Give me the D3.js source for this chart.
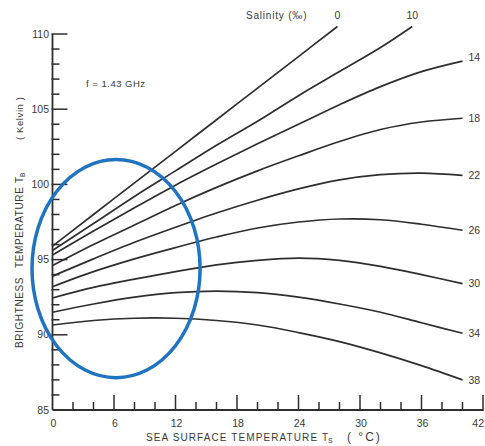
<!DOCTYPE html>
<html><head><meta charset="utf-8">
<script src="https://cdn.jsdelivr.net/npm/d3@7/dist/d3.min.js"></script>
<style>body{margin:0;background:#fff} svg{display:block} text{font-family:"Liberation Sans",Arial,sans-serif;fill:#3a3a3a}</style>
</head><body><svg id="c" width="485" height="446"></svg>
<script>
// ---- data ----
const salinities = ["0","10","14","18","22","26","30","34","38"];
const tempsS0  = [0,4,8,12,16,20,24,27.8];
const tempsS10 = [0,4,8,12,16,20,24,28,32,35.1];
const temps    = [0,4,8,12,16,20,24,28,32,36,40];
const tbS0  = [95.9,98.0,100.1,102.2,104.3,106.4,108.5,110.5];
const tbS10 = [95.6,97.4,99.2,100.9,102.6,104.2,105.9,107.5,109.1,110.5];
const tbS14 = [95.3,96.9,98.45,99.95,101.35,102.7,104.0,105.3,106.5,107.5,108.2];
const tbS18 = [94.6,96.0,97.3,98.6,99.8,100.9,101.9,102.85,103.65,104.15,104.4];
const tbS22 = [93.9,95.05,96.15,97.15,98.1,98.95,99.7,100.3,100.65,100.75,100.6];
const tbS26 = [93.2,94.2,95.05,95.8,96.5,97.1,97.5,97.7,97.65,97.35,96.95];
const tbS30 = [92.45,93.15,93.7,94.2,94.65,94.95,95.1,94.95,94.55,94.0,93.4];
const tbS34 = [91.5,92.05,92.5,92.8,92.9,92.8,92.5,92.05,91.5,90.8,90.1];
const tbS38 = [90.65,90.95,91.1,91.1,90.95,90.65,90.15,89.55,88.8,87.95,87.0];
const xTickLabels = [0,6,12,18,24,30,36,42];
const yTickLabels = [85,90,95,100,105,110];
const xMinorTicks = d3.range(0,43,2);
const yMinorTicks = d3.range(85,111,1);
// annotation ellipse (data units): centre and radii
const ellipseCentre = [6.2, 94.4];
const ellipseRadii = [8.2, 7.25];

const series = [
  {s:salinities[0], t:tempsS0,  v:tbS0},
  {s:salinities[1], t:tempsS10, v:tbS10},
  {s:salinities[2], t:temps, v:tbS14},
  {s:salinities[3], t:temps, v:tbS18},
  {s:salinities[4], t:temps, v:tbS22},
  {s:salinities[5], t:temps, v:tbS26},
  {s:salinities[6], t:temps, v:tbS30},
  {s:salinities[7], t:temps, v:tbS34},
  {s:salinities[8], t:temps, v:tbS38}
];

const svg = d3.select("#c");
const x = d3.scaleLinear().domain([0,42]).range([52.5,483]);
const y = d3.scaleLinear().domain([85,110]).range([410,34]);
const ink = "#2e2e2e";

// axes
svg.append("line").attr("x1",x(0)).attr("x2",x(0)).attr("y1",y(85)).attr("y2",y(110))
  .attr("stroke",ink).attr("stroke-width",1.8);
svg.append("line").attr("x1",x(0)).attr("x2",x(42)).attr("y1",y(85)).attr("y2",y(85))
  .attr("stroke",ink).attr("stroke-width",1.8);
// y ticks
svg.append("g").selectAll("line").data(yMinorTicks.filter(d=>d>85)).join("line")
  .attr("x1",x(0)-1).attr("x2",d=>x(0)+(d%5===0?15:7))
  .attr("y1",d=>y(d)).attr("y2",d=>y(d)).attr("stroke",ink).attr("stroke-width",1.5);
// x ticks
svg.append("g").selectAll("line").data(xMinorTicks.filter(d=>d>0)).join("line")
  .attr("x1",d=>x(d)).attr("x2",d=>x(d))
  .attr("y1",y(85)+1).attr("y2",d=>y(85)-(d%6===0?15:8)).attr("stroke",ink).attr("stroke-width",1.5);
// tick labels
svg.append("g").selectAll("text").data(yTickLabels).join("text")
  .attr("x",49).attr("y",d=>y(d)).attr("dy","0.35em").attr("text-anchor","end")
  .attr("font-size",10.5).text(d=>d);
svg.append("g").selectAll("text").data(xTickLabels).join("text")
  .attr("x",d=>d===42?484:x(d)+1).attr("y",427).attr("text-anchor",d=>d===42?"end":"middle")
  .attr("font-size",10.5).text(d=>d);

// axis titles
const xt = svg.append("text").attr("x",146).attr("y",441).attr("font-size",10).attr("letter-spacing",1.1);
xt.append("tspan").text("SEA  SURFACE  TEMPERATURE");
const xt2 = svg.append("text").attr("x",322).attr("y",441).attr("font-size",10);
xt2.append("tspan").text("T");
xt2.append("tspan").attr("font-size",7).attr("dy",2).text("S");
svg.append("text").attr("x",347).attr("y",441).attr("font-size",12).attr("letter-spacing",2).text("( °C)");

function vtext(px, py, str, fs, ls){
  return svg.append("text").attr("transform",`translate(${px},${py}) rotate(-90)`)
    .attr("font-size",fs).attr("letter-spacing",ls||0).text(str);
}
vtext(23,348,"BRIGHTNESS",10,0.6);
vtext(23,268,"TEMPERATURE",10,0.6);
const tb = svg.append("text").attr("transform","translate(23,183) rotate(-90)").attr("font-size",10);
tb.append("tspan").text("T");
tb.append("tspan").attr("font-size",6.5).attr("dy",2).text("B");
vtext(23,140,"( Kelvin )",9.5,0.6);

// annotations
svg.append("text").attr("x",86).attr("y",87).attr("font-size",9.5).attr("letter-spacing",0.5).text("f = 1.43  GHz");
svg.append("text").attr("x",246).attr("y",19).attr("font-size",10).attr("letter-spacing",0.8).text("Salinity  (‰)");

// curves
const line = d3.line().x(d=>x(d[0])).y(d=>y(d[1])).curve(d3.curveCatmullRom.alpha(0.5));
svg.append("g").selectAll("path").data(series).join("path")
  .attr("d",d=>line(d.t.map((t,i)=>[t,d.v[i]])))
  .attr("fill","none").attr("stroke",ink).attr("stroke-width",1.7);

// curve labels
series.forEach((d,i)=>{
  const tEnd = d.t[d.t.length-1], vEnd = d.v[d.v.length-1];
  if(i<2){
    svg.append("text").attr("x",x(tEnd)).attr("y",19).attr("text-anchor","middle")
      .attr("font-size",10.5).text(d.s);
  } else {
    svg.append("text").attr("x",x(tEnd)+6).attr("y",y(vEnd)-(i===2?4:0)).attr("dy","0.35em")
      .attr("font-size",10.5).text(d.s);
  }
});

// blue ellipse
svg.append("ellipse")
  .attr("cx",x(ellipseCentre[0])).attr("cy",y(ellipseCentre[1]))
  .attr("rx",x(ellipseCentre[0]+ellipseRadii[0])-x(ellipseCentre[0]))
  .attr("ry",y(ellipseCentre[1])-y(ellipseCentre[1]+ellipseRadii[1]))
  .attr("fill","none").attr("stroke","#1f73c1").attr("stroke-width",3.5);
</script></body></html>
